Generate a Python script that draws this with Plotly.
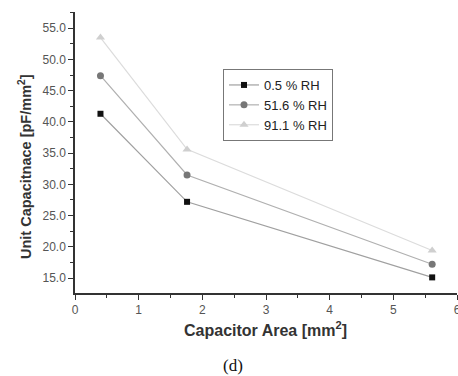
import plotly.graph_objects as go

area = [0.4, 1.76, 5.61]
rh_low = [41.3, 27.2, 15.1]
rh_mid = [47.4, 31.5, 17.2]
rh_high = [53.5, 35.6, 19.4]
names = ["0.5 % RH", "51.6 % RH", "91.1 % RH"]

fig = go.Figure()
styles = [
    (rh_low, "square", "#111111", "#a0a0a0", 6),
    (rh_mid, "circle", "#777777", "#b0b0b0", 7),
    (rh_high, "triangle-up", "#cfcfcf", "#dcdcdc", 8),
]
for (vals, sym, mc, lc, ms), nm in zip(styles, names):
    fig.add_trace(go.Scatter(
        x=area, y=vals, name=nm, mode="lines+markers",
        line=dict(color=lc, width=1.2),
        marker=dict(symbol=sym, color=mc, size=ms),
    ))


def px_x(p):
    return (p - 75) / 382


def px_y(p):
    return (293 - p) / 281


axis_font = dict(family="Liberation Sans, Arial", size=12, color="#555555")
fig.update_layout(
    width=458, height=376,
    margin=dict(l=75, r=1, t=12, b=83),
    paper_bgcolor="white", plot_bgcolor="white",
    showlegend=True,
    legend=dict(
        x=px_x(223), y=px_y(105), xanchor="left", yanchor="middle",
        bordercolor="#777777", borderwidth=1, bgcolor="white",
        font=dict(family="Liberation Sans, Arial", size=13, color="#222222"),
        tracegroupgap=0, itemwidth=30,
    ),
    xaxis=dict(
        range=[0, 6], dtick=1, tick0=0, showgrid=False, zeroline=False,
        showline=True, linecolor="#333333", linewidth=1.5,
        ticks="outside", ticklen=5, tickcolor="#333333",
        minor=dict(dtick=0.5, ticks="outside", ticklen=3, tickcolor="#333333"),
        tickfont=axis_font, automargin=False, ticklabeloverflow="allow",
    ),
    yaxis=dict(
        range=[12.6, 57.6], dtick=5, tick0=15, tickformat=".1f",
        showgrid=False, zeroline=False,
        showline=True, linecolor="#333333", linewidth=1.5,
        ticks="outside", ticklen=5, tickcolor="#333333",
        minor=dict(dtick=2.5, ticks="outside", ticklen=3, tickcolor="#333333"),
        tickfont=axis_font, automargin=False,
    ),
)

fig.add_annotation(
    text="<b>Capacitor Area [mm<sup>2</sup>]</b>", x=px_x(265), y=px_y(329),
    xref="paper", yref="paper", xanchor="center", yanchor="middle", showarrow=False,
    font=dict(family="Liberation Sans, Arial", size=16, color="#333333"),
)
fig.add_annotation(
    text="<b>Unit Capacitnace [pF/mm<sup>2</sup>]</b>", x=px_x(25), y=px_y(167),
    xref="paper", yref="paper", xanchor="center", yanchor="middle", showarrow=False,
    textangle=-90,
    font=dict(family="Liberation Sans, Arial", size=14.5, color="#333333"),
)
fig.add_annotation(
    text="(d)", x=px_x(233), y=px_y(365),
    xref="paper", yref="paper", xanchor="center", yanchor="middle", showarrow=False,
    font=dict(family="Liberation Serif, Times New Roman", size=17, color="#111111"),
)

fig.write_html("out.html", config={"displayModeBar": False})

with open("out.html", encoding="utf-8") as f:
    html = f.read()
html = html.replace("<head>", "<head><style>html,body{margin:0;padding:0;overflow:hidden;}</style>", 1)
with open("out.html", "w", encoding="utf-8") as f:
    f.write(html)
